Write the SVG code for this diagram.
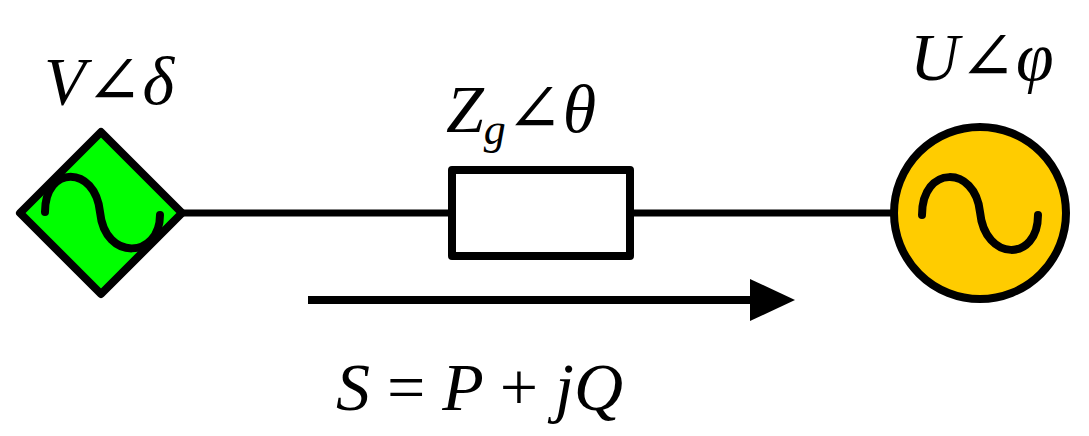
<svg xmlns="http://www.w3.org/2000/svg" width="1089" height="436" viewBox="0 0 1089 436">
<style>
text{font-family:'Liberation Serif','DejaVu Serif',serif;font-style:italic;font-size:68px;fill:#000}
.u{font-style:normal}
.s{stroke:#000;stroke-width:8;stroke-linecap:round;stroke-linejoin:round}
</style>
<rect width="1089" height="436" fill="#fff"/>
<g id="connectors">
<line x1="183" y1="213" x2="452" y2="213" stroke="#000" stroke-width="7"/>
<line x1="630" y1="213" x2="892" y2="213" stroke="#000" stroke-width="7"/>
<line x1="308" y1="300" x2="760" y2="300" stroke="#000" stroke-width="8"/>
<polygon points="750,279 795,300 750,321" fill="#000"/>
</g>
<g id="source-V">
<polygon points="101,132 182,213 101,294 20,213" style="fill:#00ff00" class="s"/>
<path class="s" style="fill:none" d="M45,212 C45,165 95,165 100,212 C105,262 160,258 160,215" stroke-width="7"/>
<text x="44" y="104">V<tspan class="u">∠</tspan>δ</text>
</g>
<g id="impedance">
<rect x="452" y="170" width="178" height="86" style="fill:#fff" class="s" stroke-width="7"/>
<text x="446" y="132">Z<tspan font-size="44" dy="12">g</tspan><tspan class="u" dy="-12">∠</tspan>θ</text>
</g>
<g id="source-U">
<circle cx="980" cy="213" r="86" style="fill:#ffcc00" class="s"/>
<path class="s" style="fill:none" d="M922,215 C922,165 975,165 980,212 C985,262 1038,262 1038,215" stroke-width="7"/>
<text x="910" y="80">U<tspan class="u">∠</tspan>φ</text>
</g>
<text x="336" y="410">S <tspan class="u">=</tspan> P <tspan class="u">+</tspan> jQ</text>
</svg>
